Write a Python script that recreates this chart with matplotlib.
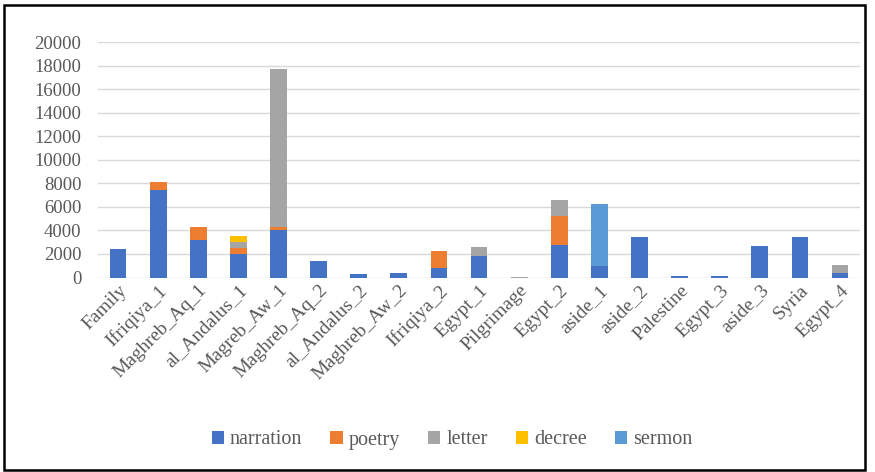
import matplotlib.pyplot as plt
from matplotlib.patches import Rectangle
import numpy as np

sections = ["Family", "Ifriqiya_1", "Maghreb_Aq_1", "al_Andalus_1", "Magreb_Aw_1",
            "Maghreb_Aq_2", "al_Andalus_2", "Maghreb_Aw_2", "Ifriqiya_2", "Egypt_1",
            "Pilgrimage", "Egypt_2", "aside_1", "aside_2", "Palestine", "Egypt_3",
            "aside_3", "Syria", "Egypt_4"]

narration = [2400, 7400, 3200, 2000, 4050, 1400, 300, 400, 850, 1800,
             0, 2800, 1000, 3450, 100, 100, 2650, 3400, 350]
poetry = [0, 750, 1100, 550, 250, 0, 0, 0, 1430, 0,
          0, 2450, 0, 0, 0, 0, 0, 0, 0]
letter = [0, 0, 0, 450, 13400, 0, 0, 0, 0, 800,
          80, 1300, 0, 0, 0, 0, 0, 0, 700]
decree = [0, 0, 0, 500, 0, 0, 0, 0, 0, 0,
          0, 0, 0, 0, 0, 0, 0, 0, 0]
sermon = [0, 0, 0, 0, 0, 0, 0, 0, 0, 0,
          0, 0, 5250, 0, 0, 0, 0, 0, 0]

series = [("narration", narration, "#4472C4"),
          ("poetry", poetry, "#ED7D31"),
          ("letter", letter, "#A5A5A5"),
          ("decree", decree, "#FFC000"),
          ("sermon", sermon, "#5B9BD5")]

plt.rcParams['font.family'] = ['Liberation Serif', 'DejaVu Serif']

fig = plt.figure(figsize=(8.75, 4.72), dpi=100)
ax = fig.add_axes([0.112, 0.412, 0.871, 0.499])

x = np.arange(len(sections))
bottom = np.zeros(len(sections))
for name, vals, color in series:
    vals = np.array(vals, dtype=float)
    ax.bar(x, vals, width=0.42, bottom=bottom, color=color, label=name, zorder=3)
    bottom += vals

ax.set_xlim(-0.5, len(sections) - 0.5)
ax.set_ylim(0, 20000)
ax.set_yticks(range(0, 20001, 2000))
ax.yaxis.grid(True, color="#d9d9d9", linewidth=1.0, zorder=0)
ax.tick_params(axis="y", length=0, pad=12, labelsize=13.5, labelcolor="#595959")
ax.tick_params(axis="x", length=0, pad=3, labelsize=14, labelcolor="#595959")
ax.set_xticks(x)
ax.set_xticklabels(sections, rotation=45, ha="right", rotation_mode="anchor")
for s in ax.spines.values():
    s.set_visible(False)

# legend centred under the plot, in axes coordinates
leg_x = (452 / 875 - 0.112) / 0.871
leg_y = (1 - 440 / 472 - 0.412) / 0.499
leg = ax.legend(loc="center", bbox_to_anchor=(leg_x, leg_y), ncol=5, frameon=False,
                fontsize=14.5, labelcolor="#595959",
                handlelength=0.6, handleheight=0.6, handletextpad=0.3, columnspacing=1.4)
for t in leg.get_texts():
    t.set_fontfamily("Liberation Serif")

fig.patches.append(Rectangle((0.004, 0.004), 0.985, 0.985, transform=fig.transFigure,
                             fill=False, edgecolor="black", linewidth=1.8))

fig.savefig("out.png", dpi=100)
